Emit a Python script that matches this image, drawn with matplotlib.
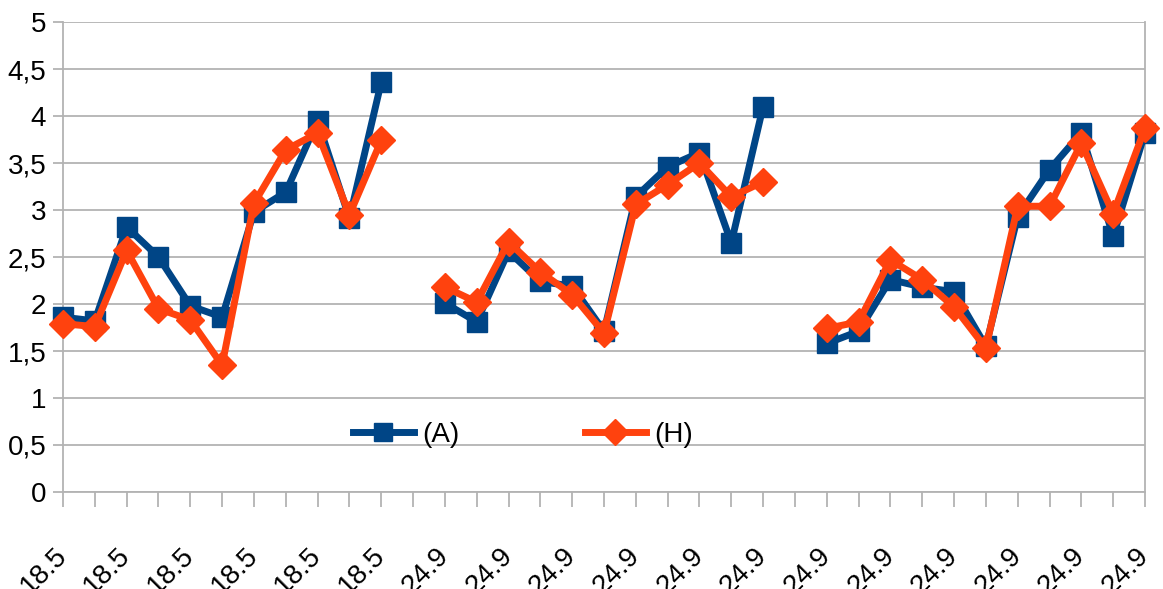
import numpy as np
import matplotlib.pyplot as plt
from matplotlib.transforms import ScaledTranslation

plt.rcParams.update(
    {
        "font.family": ["Liberation Sans", "DejaVu Sans"],
        "font.size": 20,
    }
)

# ---------------------------
# Data (NaN = empty category between the two sessions)
# ---------------------------
nan = np.nan
series_a = [
    1.86, 1.82, 2.82, 2.50, 1.98, 1.86, 2.98, 3.19, 3.95, 2.91, 4.36,
    nan,
    2.01, 1.81, 2.56, 2.24, 2.19, 1.71, 3.14, 3.46, 3.61, 2.65, 4.10,
    nan,
    1.58, 1.71, 2.26, 2.18, 2.13, 1.55, 2.93, 3.43, 3.82, 2.72, 3.82,
]
series_h = [
    1.79, 1.76, 2.57, 1.95, 1.83, 1.35, 3.07, 3.64, 3.82, 2.95, 3.74,
    nan,
    2.18, 2.02, 2.66, 2.34, 2.10, 1.69, 3.06, 3.27, 3.50, 3.14, 3.30,
    nan,
    1.74, 1.81, 2.47, 2.26, 1.97, 1.53, 3.04, 3.04, 3.71, 2.96, 3.87,
]
categories = ["18.5"] * 12 + ["24.9"] * 23
yticks = [0, 0.5, 1, 1.5, 2, 2.5, 3, 3.5, 4, 4.5, 5]

blue = "#004586"
orange = "#ff420e"
grey = "#b3b3b3"

x = np.arange(len(categories))

fig = plt.figure(figsize=(11.63, 5.89), dpi=100)
ax = fig.add_axes([0.0542, 0.1647, 0.9303, 0.7979])

ax.plot(x, series_a, color=blue, lw=5, marker="s", ms=14, mec=blue,
        label="(A)", clip_on=False, zorder=3)
ax.plot(x, series_h, color=orange, lw=5, marker="D", ms=14, mec=orange,
        label="(H)", clip_on=False, zorder=4)

ax.set_xlim(0, len(categories) - 1)
ax.set_ylim(0, 5)
ax.set_yticks(yticks)
ax.set_yticklabels([f"{v:g}".replace(".", ",") for v in yticks])

ax.set_xticks(x)
ax.set_xticklabels(
    [c if i % 2 == 0 else "" for i, c in enumerate(categories)],
    rotation=45,
    ha="right",
    va="center",
    rotation_mode="anchor",
)
shift = ScaledTranslation(0.08, 0, fig.dpi_scale_trans)
for lbl in ax.get_xticklabels():
    lbl.set_transform(lbl.get_transform() + shift)

ax.yaxis.grid(True, color=grey, lw=1.3)
ax.set_axisbelow(True)
for side in ["left", "bottom", "right"]:
    ax.spines[side].set_color(grey)
    ax.spines[side].set_linewidth(1.3)
ax.spines["top"].set_visible(False)
ax.tick_params(axis="x", length=11, width=1.3, color=grey, pad=32)
ax.tick_params(axis="y", length=7, width=1.3, color=grey, pad=5)

ax.legend(
    loc="center",
    bbox_to_anchor=(0.425, 0.121),
    ncol=2,
    frameon=False,
    handlelength=2.2,
    handletextpad=0.3,
    columnspacing=4.5,
    markerscale=0.95,
)

fig.savefig("out.png", dpi=100)
